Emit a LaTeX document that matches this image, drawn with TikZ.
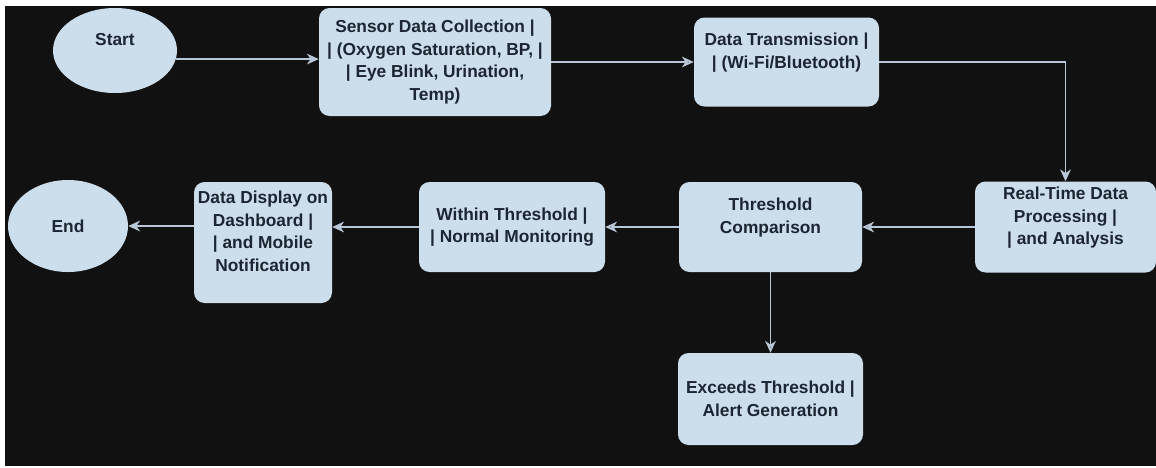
\documentclass[tikz,border=0pt]{standalone}
\usepackage{fontspec}
\setmainfont{Liberation Sans}
\usepackage{xcolor}
\usepackage{tikz}
\usetikzlibrary{calc, arrows.meta, positioning, shapes}

\definecolor{boxfill}{HTML}{CCDDEC}
\definecolor{boxtext}{HTML}{1C2632}
\definecolor{linkcol}{HTML}{B8C8D8}
\definecolor{bgcol}{HTML}{111111}

\begin{document}
\begin{tikzpicture}[x=0.03cm, y=-0.03cm, >={Stealth[length=10pt, width=9pt, inset=3pt]}]
		\tikzstyle{term} = [ellipse, fill=boxfill, text=boxtext, align=center, inner sep=0pt, font=\fontsize{14.8}{19.2}\selectfont\bfseries]
		\tikzstyle{proc} = [rectangle, rounded corners=9pt, fill=boxfill, text=boxtext, align=center, inner sep=0pt, font=\fontsize{14.8}{19.2}\selectfont\bfseries]
		\tikzstyle{link} = [draw=linkcol, line width=1.6pt, ->]
		
		\useasboundingbox (0, 0) rectangle (1156, 467);
		\fill[white] (0, 0) rectangle (1156, 467);
		\fill[bgcol] (5, 6) rectangle (1156, 466);
		
		\node[term, minimum width=3.72cm, minimum height=2.55cm] 	at (115, 50.5) 	(start) 	{Start\\~};
		\node[proc, minimum width=6.96cm, minimum height=3.24cm] 	at (435, 62) 	(sensor) 	{Sensor Data Collection |\\| (Oxygen Saturation, BP, |\\| Eye Blink, Urination,\\Temp)};
		\node[proc, minimum width=5.55cm, minimum height=2.67cm] 	at (786.5, 62) 	(trans) 	{Data Transmission |\\| (Wi-Fi/Bluetooth)\\~};
		\node[proc, minimum width=5.43cm, minimum height=2.73cm] 	at (1065.5, 227) 	(rt) 	{Real-Time Data\\Processing |\\| and Analysis\\~};
		\node[proc, minimum width=5.49cm, minimum height=2.70cm] 	at (770.5, 227) 	(tc) 	{Threshold\\Comparison\\~};
		\node[proc, minimum width=5.55cm, minimum height=2.76cm] 	at (770.5, 399) 	(exceed) 	{Exceeds Threshold |\\Alert Generation};
		\node[proc, minimum width=5.58cm, minimum height=2.70cm] 	at (512, 227) 	(within) 	{Within Threshold |\\| Normal Monitoring};
		\node[proc, minimum width=4.14cm, minimum height=3.63cm] 	at (263, 242.5) 	(display) 	{Data Display on\\Dashboard |\\| and Mobile\\Notification\\~};
		\node[term, minimum width=3.60cm, minimum height=2.76cm] 	at (68, 226) 	(end) 	{End};
		
		\draw[link] (start.-8) -- (start.-8 -| sensor.west);
		\path[link]
		(sensor)	edge	(trans)
		(rt)	edge	(tc)
		(tc)	edge	(within)
		(tc)	edge	(exceed);
		\draw[link] (trans.east) -| (rt.north);
		\draw[link] (within.west) -- (within.west -| display.east);
		\draw[link] (display.west |- end.east) -- (end.east);
		\end{tikzpicture}
\end{document}
